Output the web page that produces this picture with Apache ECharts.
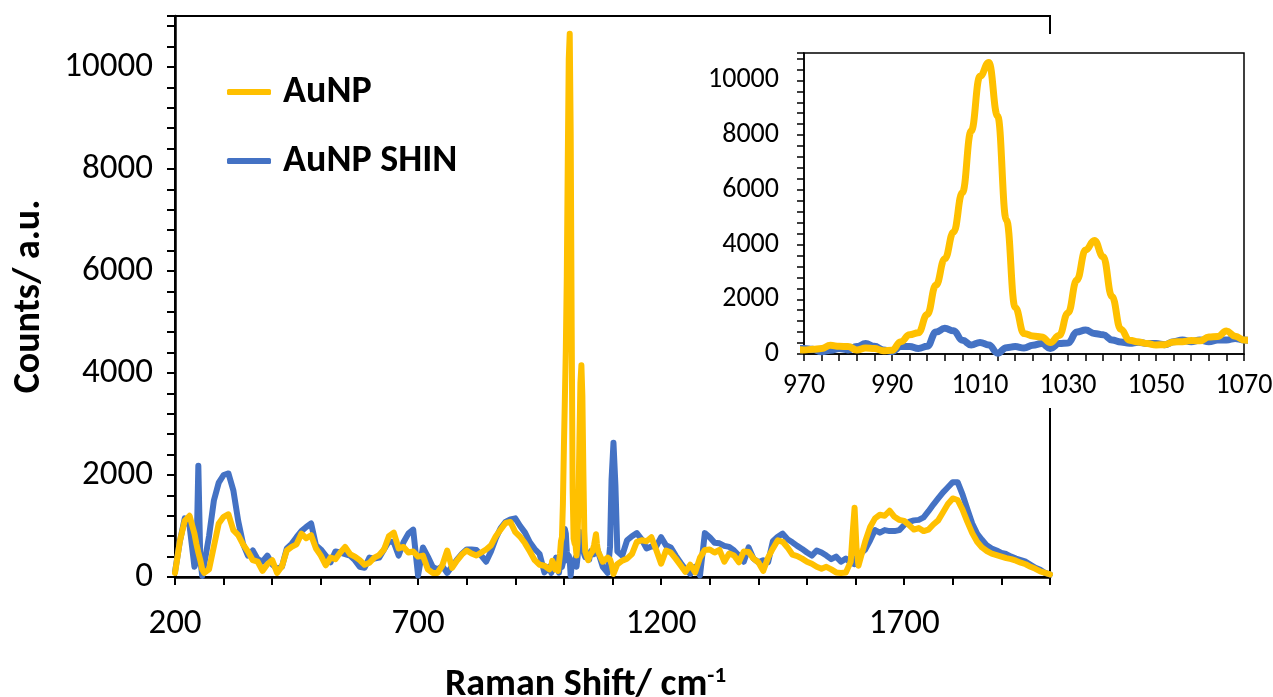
<!DOCTYPE html>
<html>
<head>
<meta charset="utf-8">
<script src="https://cdn.jsdelivr.net/npm/echarts@6/dist/echarts.min.js"></script>
<style>
  html, body { margin: 0; padding: 0; background: #fff; }
  #chart { width: 1273px; height: 697px; }
</style>
</head>
<body>
<div id="chart"></div>
<script>
// Raman shift (cm^-1) sample positions shared by both spectra
const shift = [
  200, 210, 220, 230, 240, 244, 248, 252, 256, 260,
  270, 280, 290, 300, 310, 320, 330, 340, 350, 360,
  370, 380, 390, 400, 410, 420, 430, 440, 450, 460,
  470, 480, 490, 500, 510, 520, 530, 540, 550, 560,
  570, 580, 590, 600, 610, 620, 630, 640, 650, 660,
  670, 680, 690, 700, 710, 720, 730, 740, 750, 760,
  770, 780, 790, 800, 810, 820, 830, 840, 850, 860,
  870, 880, 890, 900, 910, 920, 930, 940, 950, 960,
  970, 972, 974, 976, 978, 980, 982, 984, 986, 988,
  990, 992, 994, 996, 998, 1000, 1002, 1004, 1006, 1008,
  1010, 1012, 1014, 1016, 1018, 1020, 1022, 1024, 1026, 1028,
  1030, 1032, 1034, 1036, 1038, 1040, 1042, 1044, 1046, 1048,
  1050, 1052, 1054, 1056, 1058, 1060, 1062, 1064, 1066, 1068,
  1070, 1080, 1090, 1095, 1098, 1102, 1106, 1110, 1120, 1130,
  1140, 1150, 1160, 1170, 1180, 1190, 1200, 1210, 1220, 1230,
  1240, 1250, 1260, 1270, 1280, 1290, 1300, 1310, 1320, 1330,
  1340, 1350, 1360, 1370, 1380, 1390, 1400, 1410, 1420, 1430,
  1440, 1450, 1460, 1470, 1480, 1490, 1500, 1510, 1520, 1530,
  1540, 1550, 1560, 1570, 1580, 1590, 1594, 1598, 1602, 1606,
  1610, 1620, 1630, 1640, 1650, 1660, 1670, 1680, 1690, 1700,
  1710, 1720, 1730, 1740, 1750, 1760, 1770, 1780, 1790, 1800,
  1810, 1820, 1830, 1840, 1850, 1860, 1870, 1880, 1890, 1900,
  1910, 1920, 1930, 1940, 1950, 1960, 1970, 1980, 1990, 2000
];

// Counts for the AuNP spectrum
const auNP = [
  80, 700, 1100, 1200, 850, 650, 480, 330, 150, 80,
  150, 600, 1050, 1180, 1230, 920, 820, 640, 500, 330,
  300, 120, 250, 330, 80, 210, 520, 590, 640, 850,
  760, 820, 560, 420, 230, 380, 350, 480, 590, 450,
  400, 330, 240, 280, 380, 430, 540, 800, 870, 560,
  590, 480, 500, 400, 420, 150, 80, 80, 230, 520,
  180, 320, 440, 520, 460, 420, 480, 540, 620, 800,
  930, 1060, 1080, 880, 790, 660, 500, 330, 240, 220,
  150, 170, 200, 320, 280, 270, 150, 220, 200, 120,
  140, 450, 700, 780, 1440, 2520, 3480, 4460, 5900, 8150,
  10150, 10650, 8700, 4900, 1700, 750, 660, 620, 420, 680,
  1500, 2700, 3800, 4150, 3550, 2100, 900, 500, 440, 380,
  330, 340, 440, 450, 490, 480, 620, 640, 840, 650,
  510, 300, 380, 340, 250, 60, 80, 250, 320, 360,
  450, 690, 720, 700, 780, 530, 260, 520, 480, 360,
  230, 100, 240, 90, 380, 530, 540, 480, 530, 300,
  460, 420, 290, 500, 490, 360, 290, 120, 380, 560,
  720, 690, 580, 440, 410, 360, 300, 260, 200, 160,
  200, 150, 90, 80, 90, 300, 860, 1360, 560, 220,
  250, 700, 980, 1150, 1220, 1200, 1300, 1180, 1120, 1100,
  1020, 930, 960, 900, 930, 1030, 1110, 1270, 1430, 1540,
  1510, 1320, 1080, 860, 690, 580, 510, 460, 430, 400,
  370, 350, 320, 280, 250, 200, 160, 110, 80, 50
];

// Counts for the AuNP SHIN spectrum
const auNPShin = [
  100, 700, 1150, 1000, 200, 300, 2180, 350, 20, 30,
  800, 1500, 1850, 2000, 2030, 1700, 1100, 650, 420, 520,
  350, 300, 420, 250, 160, 200, 560, 650, 780, 900,
  980, 1050, 620, 540, 420, 290, 500, 480, 450, 420,
  330, 200, 180, 380, 360, 380, 540, 700, 680, 420,
  680, 850, 930, 30, 580, 400, 200, 150, 210, 80,
  210, 340, 450, 540, 540, 530, 420, 300, 500, 760,
  960, 1080, 1130, 1150, 1000, 870, 680, 550, 450, 90,
  200, 170, 80, 140, 200, 150, 270, 380, 280, 150,
  85, 270, 270, 200, 280, 800, 940, 850, 500, 330,
  420, 330, 30, 230, 270, 220, 320, 380, 200, 380,
  400, 800, 880, 750, 700, 510, 440, 390, 430, 380,
  380, 340, 450, 510, 450, 510, 450, 510, 510, 570,
  510, 200, 80, 600, 1900, 2630, 1800, 500, 420, 720,
  800, 860, 740, 560, 600, 600, 780, 620, 580, 420,
  280, 150, 60, 200, 30, 860, 780, 670, 660, 610,
  590, 520, 420, 300, 580, 360, 290, 330, 290, 700,
  790, 850, 740, 680, 610, 550, 480, 420, 520, 480,
  420, 350, 400, 300, 360, 280, 250, 250, 380, 420,
  420, 540, 720, 920, 870, 920, 900, 900, 920, 1020,
  1080, 1110, 1120, 1170, 1290, 1420, 1540, 1660, 1760, 1860,
  1860, 1620, 1330, 1050, 850, 730, 620, 560, 520, 470,
  450, 400, 360, 330, 300, 240, 180, 140, 80, 50
];

// Tick labels
const mainXLabels = [200, 700, 1200, 1700];
const countLabels = [0, 2000, 4000, 6000, 8000, 10000];
const insetXLabels = [970, 990, 1010, 1030, 1050, 1070];
const insetStart = 970;

const FONT = 'Carlito, Lato, "Open Sans", sans-serif';
const AU_COLOR = '#FFC000';
const SHIN_COLOR = '#4472C4';

const mainPairs = (vals) => shift.map((s, i) => [s, vals[i]]);
const insetPairs = (vals) => shift.map((s, i) => [s - insetStart, vals[i]]);

const axisLine = (w) => ({ show: true, onZero: false, lineStyle: { color: '#000', width: w } });

const chart = echarts.init(document.getElementById('chart'), null, { renderer: 'canvas' });

chart.setOption({
  animation: false,
  backgroundColor: '#fff',
  textStyle: { fontFamily: FONT },
  grid: [
    {
      left: 175, right: 223, top: 16, bottom: 120,
      outerBoundsMode: 'none', containLabel: false,
      show: true, borderColor: '#000', borderWidth: 2, backgroundColor: 'transparent'
    },
    {
      left: 804, right: 29, top: 53, bottom: 343, z: 11,
      outerBoundsMode: 'none', containLabel: false,
      show: true, borderColor: '#000', borderWidth: 1.5, backgroundColor: '#fff'
    }
  ],
  graphic: {
    elements: [{
      type: 'rect', z: 10,
      shape: { x: 690, y: 34, width: 578, height: 374 },
      style: { fill: '#fff' }
    }]
  },
  legend: {
    data: ['AuNP', 'AuNP SHIN'],
    orient: 'vertical',
    left: 227, top: 72, padding: 0,
    itemWidth: 44, itemHeight: 6, itemGap: 29,
    icon: 'roundRect',
    textStyle: { fontFamily: FONT, fontSize: 38, fontWeight: 'bold', color: '#000', lineHeight: 40, padding: [0, 0, 0, 7] }
  },
  xAxis: [
    {
      type: 'value', gridIndex: 0, min: 200, max: 2000, interval: 100,
      axisLine: axisLine(2.5),
      axisTick: { show: true, length: 8, lineStyle: { color: '#000', width: 2 } },
      splitLine: { show: false },
      axisLabel: {
        margin: 30, fontSize: 35, color: '#000', fontFamily: FONT,
        formatter: (v) => mainXLabels.includes(v) ? String(v) : ''
      },
      name: 'Raman Shift/ cm{sup|-1}',
      nameLocation: 'middle', nameGap: 88,
      nameTextStyle: {
        fontFamily: FONT, fontSize: 38, fontWeight: 'bold', color: '#000',
        padding: [0, 54, 0, 0],
        rich: { sup: { fontFamily: FONT, fontSize: 23, fontWeight: 'bold', color: '#000', verticalAlign: 'top', padding: [0, 0, 18, 0] } }
      }
    },
    {
      type: 'value', gridIndex: 1, min: 0, max: 100, interval: 4, z: 12,
      axisLine: axisLine(1.5),
      axisTick: { show: true, length: 7, lineStyle: { color: '#000', width: 1.5 } },
      splitLine: { show: false },
      axisLabel: {
        margin: 18, fontSize: 28, color: '#000', fontFamily: FONT,
        formatter: (v) => insetXLabels.includes(v + insetStart) ? String(v + insetStart) : ''
      }
    }
  ],
  yAxis: [
    {
      type: 'value', gridIndex: 0, min: 0, max: 11000, interval: 400,
      axisLine: axisLine(2.5),
      axisTick: { show: true, length: 8, lineStyle: { color: '#000', width: 2 } },
      splitLine: { show: false },
      axisLabel: {
        margin: 22, fontSize: 35, color: '#000', fontFamily: FONT,
        formatter: (v) => countLabels.includes(v) ? String(v) : ''
      },
      name: 'Counts/ a.u.',
      nameLocation: 'middle', nameGap: 127,
      nameTextStyle: { fontFamily: FONT, fontSize: 38, fontWeight: 'bold', color: '#000' }
    },
    {
      type: 'value', gridIndex: 1, min: 0, max: 11000, interval: 400, z: 12,
      axisLine: axisLine(1.5),
      axisTick: { show: true, length: 7, lineStyle: { color: '#000', width: 1.5 } },
      splitLine: { show: false },
      axisLabel: {
        margin: 25, fontSize: 28, color: '#000', fontFamily: FONT,
        formatter: (v) => countLabels.includes(v) ? String(v) : ''
      }
    }
  ],
  series: [
    {
      name: 'AuNP SHIN', type: 'line', xAxisIndex: 0, yAxisIndex: 0, z: 2,
      data: mainPairs(auNPShin), showSymbol: false, color: SHIN_COLOR,
      lineStyle: { width: 6, color: SHIN_COLOR, cap: 'round', join: 'round' }
    },
    {
      name: 'AuNP', type: 'line', xAxisIndex: 0, yAxisIndex: 0, z: 3,
      data: mainPairs(auNP), showSymbol: false, color: AU_COLOR,
      lineStyle: { width: 6, color: AU_COLOR, cap: 'round', join: 'round' }
    },
    {
      name: 'AuNP SHIN', type: 'line', xAxisIndex: 1, yAxisIndex: 1, z: 13,
      data: insetPairs(auNPShin), showSymbol: false, color: SHIN_COLOR,
      smooth: 0.45, smoothMonotone: 'x',
      lineStyle: { width: 7, color: SHIN_COLOR, cap: 'round', join: 'round' }
    },
    {
      name: 'AuNP', type: 'line', xAxisIndex: 1, yAxisIndex: 1, z: 14,
      data: insetPairs(auNP), showSymbol: false, color: AU_COLOR,
      smooth: 0.45, smoothMonotone: 'x',
      lineStyle: { width: 7, color: AU_COLOR, cap: 'round', join: 'round' }
    }
  ]
});
</script>
</body>
</html>
